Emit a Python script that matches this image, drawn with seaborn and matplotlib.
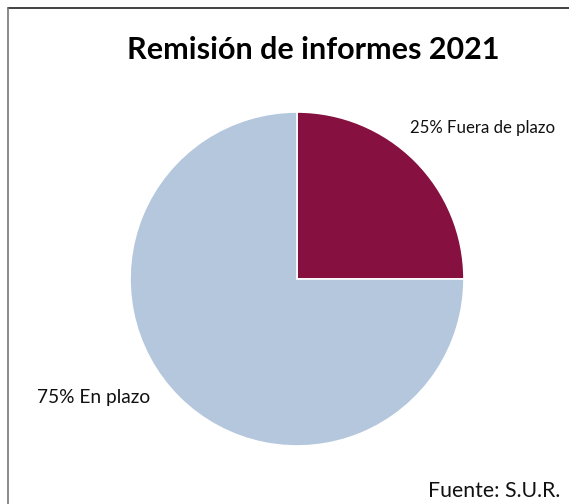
import matplotlib
matplotlib.use("Agg")
import matplotlib.pyplot as plt
import seaborn as sns
from matplotlib.lines import Line2D

categories = ["Fuera de plazo", "En plazo"]
values = [25, 75]
colors = ["#861040", "#B4C7DD"]
title = "Remisión de informes 2021"
source = "Fuente: S.U.R."

sns.set_theme(style="white")
plt.rcParams['font.family'] = ['Lato', 'DejaVu Sans']

W, H = 569, 504
fig = plt.figure(figsize=(W / 100, H / 100), dpi=100)

# pie centre (297, 279) px, radius 167 px
cx, cy, r = 297, 279, 167
ax = fig.add_axes([(cx - r) / W, (H - cy - r) / H, 2 * r / W, 2 * r / H])
ax.pie(values, colors=colors, startangle=90, counterclock=False,
       wedgeprops=dict(edgecolor="white", linewidth=1.2))
ax.set_xlim(-1, 1)
ax.set_ylim(-1, 1)
ax.set_aspect("equal")
ax.axis("off")

# labels
ax.text(113 / r, 151 / r, f"{values[0]}% {categories[0]}", ha="left", va="center",
        fontsize=12.1, color="#111111")
ax.text(-147 / r, -119 / r, f"{values[1]}% {categories[1]}", ha="right", va="center",
        fontsize=13.8, color="#111111")

fig.text(313 / W, 1 - 50 / H, title, ha="center", va="center",
         fontsize=22, fontweight="bold", color="black")
fig.text(560 / W, 1 - 491 / H, source, ha="right", va="center",
         fontsize=15.3, color="#111111")

# chart frame (extends past right and bottom edges)
fig.add_artist(Line2D([7.5 / W, 1.01], [1 - 7.5 / H, 1 - 7.5 / H],
                      transform=fig.transFigure, color="#222222", lw=1.2))
fig.add_artist(Line2D([7.5 / W, 7.5 / W], [-0.01, 1 - 7.5 / H],
                      transform=fig.transFigure, color="#777777", lw=1.2))

fig.savefig("out.png", dpi=100)
